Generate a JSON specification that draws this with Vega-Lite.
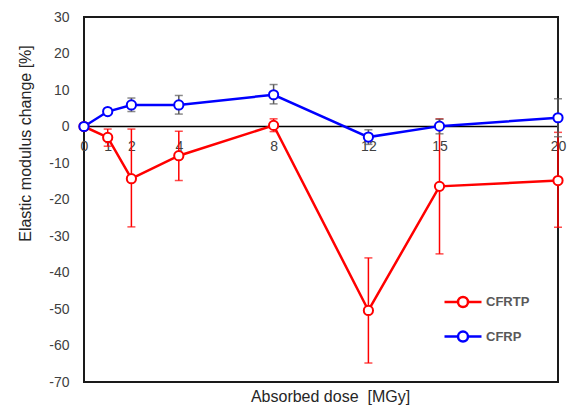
{
  "$schema": "https://vega.github.io/schema/vega-lite/v6.json",
  "width": 474,
  "height": 365,
  "autosize": {"type": "none"},
  "padding": {"left": 84, "top": 17, "right": 13, "bottom": 26},
  "background": "white",
  "config": {
    "view": {"stroke": "#1a1a1a", "strokeWidth": 2},
    "font": "Liberation Sans",
    "axisY": {
      "values": [-70, -60, -50, -40, -30, -20, -10, 0, 10, 20, 30],
      "labelExpr": "datum.value < 0 ? '-' + abs(datum.value) : '' + datum.value",
      "labelOverlap": false,
      "grid": false,
      "ticks": false,
      "domain": false,
      "labelFont": "Liberation Sans",
      "labelFontSize": 14,
      "labelColor": "#404040",
      "labelPadding": 15,
      "titleFont": "Liberation Sans",
      "titleFontSize": 16,
      "titleFontWeight": "normal",
      "titleColor": "#262626",
      "titleX": -59,
      "titleY": 126,
      "titleBaseline": "middle",
      "titleAngle": -90
    }
  },
  "data": {
    "values": [
      {"series": "CFRTP", "dose": 0, "value": 0, "lo": 0, "hi": 0},
      {"series": "CFRTP", "dose": 1, "value": -3.0, "lo": -5.4, "hi": -0.7},
      {"series": "CFRTP", "dose": 2, "value": -14.3, "lo": -27.5, "hi": -0.7},
      {"series": "CFRTP", "dose": 4, "value": -8.0, "lo": -14.8, "hi": -1.3},
      {"series": "CFRTP", "dose": 8, "value": 0.3, "lo": -1.4, "hi": 2.1},
      {"series": "CFRTP", "dose": 12, "value": -50.4, "lo": -64.8, "hi": -36.0},
      {"series": "CFRTP", "dose": 15, "value": -16.4, "lo": -34.9, "hi": 2.1},
      {"series": "CFRTP", "dose": 20, "value": -14.8, "lo": -27.6, "hi": -1.6},
      {"series": "CFRP", "dose": 0, "value": 0, "lo": 0, "hi": 0},
      {"series": "CFRP", "dose": 1, "value": 4.1, "lo": 4.1, "hi": 4.1},
      {"series": "CFRP", "dose": 2, "value": 5.9, "lo": 4.1, "hi": 7.8},
      {"series": "CFRP", "dose": 4, "value": 5.9, "lo": 3.4, "hi": 8.5},
      {"series": "CFRP", "dose": 8, "value": 8.7, "lo": 6.2, "hi": 11.5},
      {"series": "CFRP", "dose": 12, "value": -2.9, "lo": -4.9, "hi": -0.9},
      {"series": "CFRP", "dose": 15, "value": 0.1, "lo": -2.0, "hi": 2.0},
      {"series": "CFRP", "dose": 20, "value": 2.4, "lo": -2.8, "hi": 7.6}
    ]
  },
  "encoding": {
    "x": {
      "field": "dose",
      "type": "quantitative",
      "scale": {"domain": [0, 20], "nice": false, "zero": false},
      "axis": {
        "orient": "bottom",
        "offset": -256,
        "values": [0, 1, 2, 4, 8, 12, 15, 20],
        "labelOverlap": false,
        "grid": false,
        "ticks": false,
        "domain": true,
        "domainColor": "#000000",
        "domainWidth": 1.5,
        "labelFont": "Liberation Sans",
        "labelFontSize": 14,
        "labelColor": "#404040",
        "labelPadding": 13,
        "labelFlush": false,
        "title": "Absorbed dose\u00a0\u00a0[MGy]",
        "titleFont": "Liberation Sans",
        "titleFontSize": 16,
        "titleFontWeight": "normal",
        "titleColor": "#262626",
        "titleX": 246,
        "titleY": 270,
        "titleBaseline": "middle"
      }
    }
  },
  "layer": [
    {
      "transform": [{"filter": "datum.series === 'CFRTP' && datum.dose > 0"}],
      "mark": {"type": "errorbar", "ticks": {"size": 8, "thickness": 1.5}, "thickness": 1.5, "color": "#ff0000"},
      "encoding": {
        "y": {"field": "lo", "type": "quantitative", "scale": {"domain": [-70, 30], "nice": false}, "axis": {"title": "Elastic modulus change [%]"}},
        "y2": {"field": "hi"}
      }
    },
    {
      "transform": [{"filter": "datum.series === 'CFRP' && datum.dose > 1"}],
      "mark": {"type": "errorbar", "ticks": {"size": 8, "thickness": 1.5}, "thickness": 1.5, "color": "#595959"},
      "encoding": {
        "y": {"field": "lo", "type": "quantitative", "axis": {"title": "Elastic modulus change [%]"}},
        "y2": {"field": "hi"}
      }
    },
    {
      "mark": {
        "type": "line",
        "strokeWidth": 2.5,
        "point": {"filled": false, "fill": "white", "size": 85, "strokeWidth": 2, "opacity": 1}
      },
      "encoding": {
        "y": {
          "field": "value",
          "type": "quantitative",
          "scale": {"domain": [-70, 30], "nice": false},
          "axis": {"title": "Elastic modulus change [%]"}
        },
        "color": {
          "field": "series",
          "type": "nominal",
          "scale": {"domain": ["CFRTP", "CFRP"], "range": ["#ff0000", "#0000ff"]},
          "legend": {
            "title": null,
            "orient": "none",
            "legendX": 359,
            "legendY": 265,
            "padding": 0,
            "rowPadding": 4.6,
            "symbolType": "M-1,0L-0.27,0M0.27,0L1,0M-0.27,0A0.27,0.27,0,1,0,0.27,0A0.27,0.27,0,1,0,-0.27,0Z",
            "symbolSize": 1369,
            "symbolStrokeWidth": 2.5,
            "symbolFillColor": "white",
            "symbolOpacity": 1,
            "labelOffset": 3,
            "labelFont": "Liberation Sans",
            "labelFontSize": 13,
            "labelFontWeight": "bold",
            "labelColor": "#595959"
          }
        }
      }
    }
  ]
}
